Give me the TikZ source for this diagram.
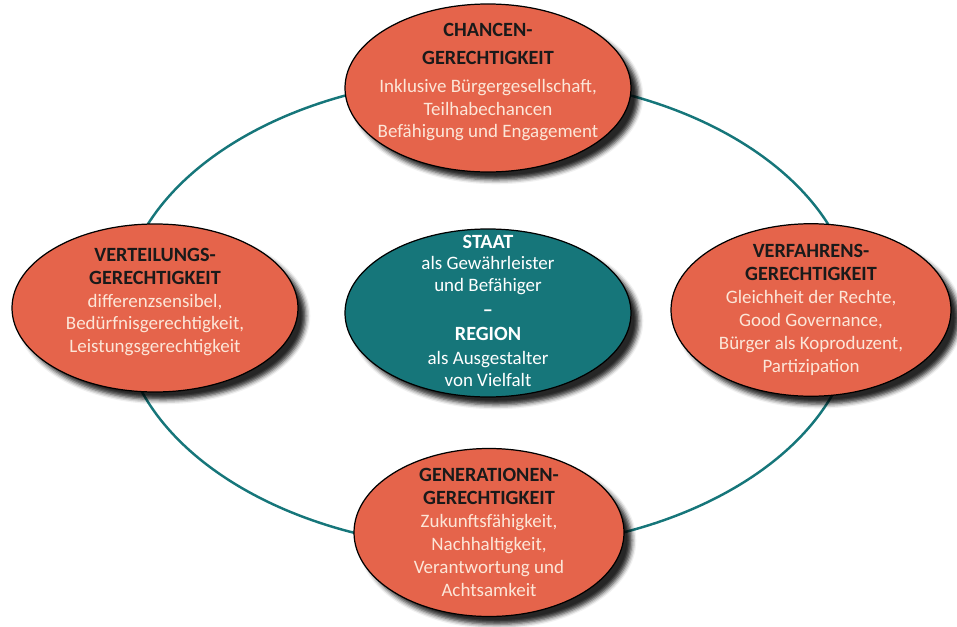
\documentclass[tikz,border=0pt]{standalone}
\usepackage{fontspec}
\setmainfont{Carlito}
\usetikzlibrary{shapes.geometric,shadows.blur}

\definecolor{kreisrot}{HTML}{E5644B}
\definecolor{kreisgruen}{HTML}{16767A}
\definecolor{hellschrift}{HTML}{FCE6D8}
\definecolor{kopfschrift}{HTML}{1A1A1A}

\tikzset{
  feld/.style={ellipse,draw=black,line width=0.7pt,minimum width=5.72cm,
    minimum height=3.36cm,inner sep=0pt,
    blur shadow={shadow xshift=4.5pt,shadow yshift=-4.5pt,
      shadow blur radius=2.5pt,shadow opacity=85}},
  gerecht/.style={feld,fill=kreisrot},
  mitte/.style={feld,fill=kreisgruen},
  % Beschriftung, liegt ueber der Ellipse
  feldtext/.style={inner sep=0pt,align=center,text=hellschrift,
    font=\fontsize{10.8}{13}\selectfont},
  mittetext/.style={feldtext,text=white,font=\fontsize{10.8}{12.4}\selectfont},
  ring/.style={draw=kreisgruen,line width=1.4pt}
}
\newcommand{\kopfzeile}[1]{\textcolor{kopfschrift}{\fontsize{11.5}{15}\selectfont\bfseries #1}}
\newcommand{\fettzeile}[1]{{\fontsize{11.5}{14}\selectfont\bfseries #1}}

\begin{document}
\begin{tikzpicture}
  \useasboundingbox (0,0) rectangle (19.14,12.52);

  % Mitte: Staat und Region
  \node[mitte] (staat) at (9.76,6.26) {};
  \node[mittetext,yshift=1.2pt] (staat-text) at (staat) {\fettzeile{STAAT}\\
    als Gewährleister\\ und Befähiger\\[1.5pt]
    \fettzeile{–}\\[1.5pt]
    \fettzeile{REGION}\\[1.5pt]
    als Ausgestalter\\ von Vielfalt};

  % Verbindungsring, wird von den vier Feldern verdeckt
  \draw[ring] (staat.center) ellipse [x radius=7.34cm, y radius=4.72cm];

  % die vier Gerechtigkeiten
  \node[gerecht] (chancen) at (9.76,10.76) {};
  \node[feldtext,yshift=3.4pt] (chancen-text) at (chancen) {\kopfzeile{CHANCEN-}\\[3pt]
    \kopfzeile{GERECHTIGKEIT}\\[3pt]
    Inklusive Bürgergesellschaft,\\ Teilhabechancen\\
    Befähigung und Engagement};

  \node[gerecht] (verteilung) at (3.10,6.36) {};
  \node[feldtext,yshift=3.4pt] (verteilung-text) at (verteilung) {\kopfzeile{VERTEILUNGS-}\\
    \kopfzeile{GERECHTIGKEIT}\\
    differenzsensibel,\\ Bedürfnisgerechtigkeit,\\
    Leistungsgerechtigkeit};

  \node[gerecht,minimum width=5.6cm,minimum height=3.45cm] (verfahren) at (16.22,6.32) {};
  \node[feldtext] (verfahren-text) at (verfahren) {\kopfzeile{VERFAHRENS-}\\
    \kopfzeile{GERECHTIGKEIT}\\
    Gleichheit der Rechte,\\ Good Governance,\\
    Bürger als Koproduzent,\\ Partizipation};

  \node[gerecht,minimum width=5.4cm] (generation) at (9.78,1.87) {};
  \node[feldtext] (generation-text) at (generation) {\kopfzeile{GENERATIONEN-}\\
    \kopfzeile{GERECHTIGKEIT}\\
    Zukunftsfähigkeit,\\ Nachhaltigkeit,\\
    Verantwortung und\\ Achtsamkeit};
\end{tikzpicture}
\end{document}
